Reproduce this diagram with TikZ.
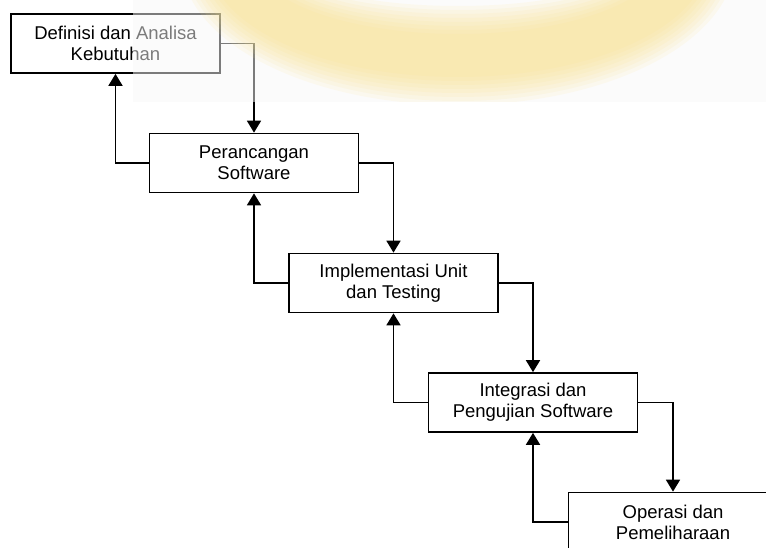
\documentclass[tikz,border=0pt]{standalone}
\usepackage{fontspec}
\setmainfont{Liberation Sans}
\usetikzlibrary{arrows.meta}
\definecolor{ringyellow}{RGB}{250,222,128}
\begin{document}
\begin{tikzpicture}[x=1pt,y=-1pt,
  stage/.style={draw, line width=1.7pt, minimum width=209pt, minimum height=59pt,
    align=center, font=\fontsize{18.5}{21}\selectfont, inner sep=0pt},
  flow/.style={line width=1.7pt, -{Triangle[width=14pt,length=12pt]}}]
\useasboundingbox (0,0) rectangle (766,548);
\clip (0,0) rectangle (766,548);
\node[stage] (s1) at (115.5,43.5) {Definisi dan Analisa\\Kebutuhan};
\node[stage] (s2) at (254,163) {Perancangan\\Software};
\node[stage] (s3) at (393.5,283) {Implementasi Unit\\dan Testing};
\node[stage] (s4) at (533,402.5) {Integrasi dan\\Pengujian Software};
\node[stage] (s5) at (673,522) {Operasi dan\\Pemeliharaan};
\draw[flow] (s1.east) -| (s2.north);
\draw[flow] (s2.west) -| (s1.south);
\draw[flow] (s2.east) -| (s3.north);
\draw[flow] (s3.west) -| (s2.south);
\draw[flow] (s3.east) -| (s4.north);
\draw[flow] (s4.west) -| (s3.south);
\draw[flow] (s4.east) -| (s5.north);
\draw[flow] (s5.west) -| (s4.south);
% watermark overlay
\begin{scope}
\clip (133,0) rectangle (766,102);
\fill[white!97!black, opacity=0.5] (133,0) rectangle (766,102);
\foreach \oa/\ob/\ia/\ib in {277/145/174/46, 273/141/178/50, 269/137/182/54,
                             265/133/186/58, 261/129/190/62, 257/125/194/66,
                             253/121/198/70, 249/117/202/74} {
  \fill[ringyellow, opacity=0.1, even odd rule]
    (458,-40) ellipse [x radius=\oa, y radius=\ob]
    (458,-40) ellipse [x radius=\ia, y radius=\ib];
}
\end{scope}
\end{tikzpicture}
\end{document}
